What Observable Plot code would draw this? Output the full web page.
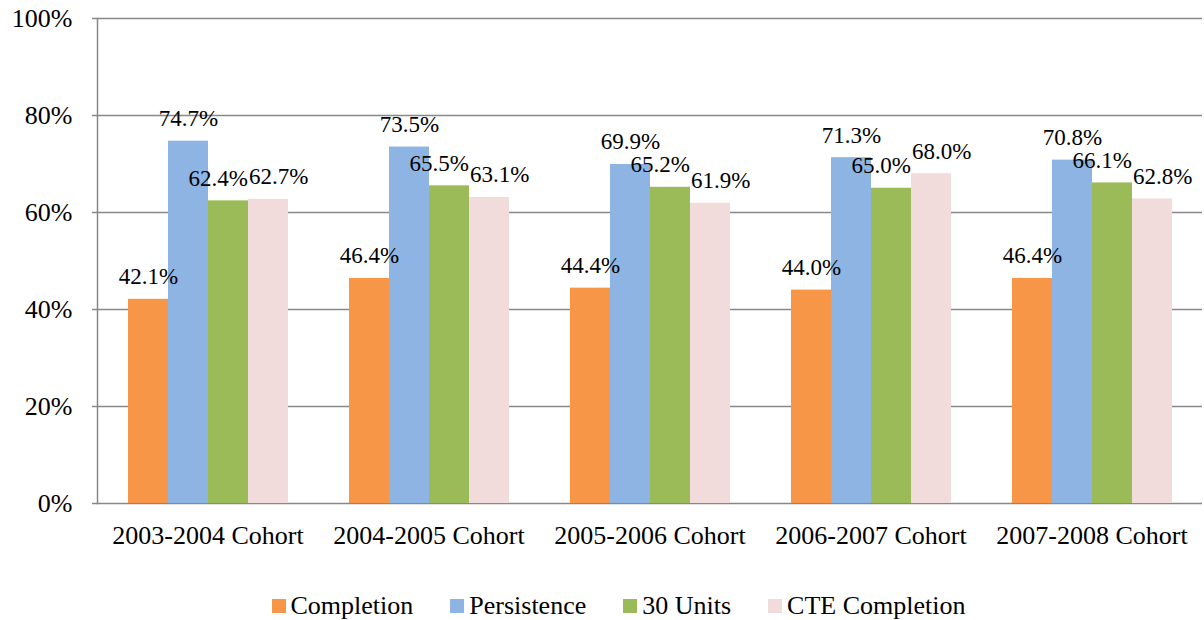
<!DOCTYPE html>
<html>
<head>
<meta charset="utf-8">
<script src="https://cdn.jsdelivr.net/npm/d3@7"></script>
<script src="https://cdn.jsdelivr.net/npm/@observablehq/plot@0.6"></script>
<style>
  body { margin: 0; background: #fff; font-family: "Times New Roman", Times, "Liberation Serif", Tinos, "Nimbus Roman", "Noto Serif", "DejaVu Serif", serif; }
  #legend { display: flex; justify-content: center; align-items: center; font-size: 26px; color: #000; height: 52px; margin-left: 33px; }
  #legend span.sw { display: inline-block; width: 14px; height: 14px; margin-right: 5px; }
  #legend div { display: flex; align-items: center; margin: 0 18.5px; }
  svg text { font-family: "Times New Roman", Times, "Liberation Serif", Tinos, "Nimbus Roman", "Noto Serif", "DejaVu Serif", serif; }
</style>
</head>
<body>
<div id="chart"></div>
<div id="legend"></div>
<script>
const cohorts = ["2003-2004 Cohort", "2004-2005 Cohort", "2005-2006 Cohort", "2006-2007 Cohort", "2007-2008 Cohort"];
const seriesNames = ["Completion", "Persistence", "30 Units", "CTE Completion"];
const completion = [42.1, 46.4, 44.4, 44.0, 46.4];
const persistence = [74.7, 73.5, 69.9, 71.3, 70.8];
const units30 = [62.4, 65.5, 65.2, 65.0, 66.1];
const cteCompletion = [62.7, 63.1, 61.9, 68.0, 62.8];
const colors = ["#F79646", "#8EB4E3", "#9BBB59", "#F2DCDB"];
const yTicks = [0, 20, 40, 60, 80, 100];

const seriesValues = [completion, persistence, units30, cteCompletion];
const data = [];
cohorts.forEach((c, i) => {
  seriesNames.forEach((s, j) => {
    data.push({cohort: c, series: s, value: seriesValues[j][i]});
  });
});

const chart = Plot.plot({
  width: 1204,
  height: 580,
  marginLeft: 95,
  marginRight: 0,
  marginTop: 18,
  marginBottom: 77,
  style: {fontSize: "26px", color: "#000", background: "#fff"},
  fx: {domain: cohorts, padding: 0, label: null},
  x: {domain: seriesNames, paddingInner: 0, paddingOuter: 0.74, axis: null},
  y: {domain: [0, 100], ticks: yTicks, label: null},
  color: {domain: seriesNames, range: colors},
  marks: [
    Plot.gridY(yTicks, {stroke: "#888", strokeOpacity: 1, strokeWidth: 1.5}),
    Plot.frame({anchor: "left", facet: "super", stroke: "#888", strokeWidth: 1.5}),
    Plot.axisY({ticks: yTicks, tickFormat: d => d + "%", tickSize: 5, stroke: "#888", strokeWidth: 1.5, tickPadding: 20, fontSize: 26, anchor: "left"}),
    Plot.axisFx({anchor: "bottom", tickSize: 0, tickPadding: 22, fontSize: 26, label: null}),
    Plot.barY(data, {fx: "cohort", x: "series", y: "value", fill: "series"}),
    Plot.text(data, {fx: "cohort", x: "series", y: "value", text: d => d.value.toFixed(1) + "%", lineAnchor: "bottom", dy: -15, fontSize: 23, fill: "#000"})
  ]
});
document.getElementById("chart").appendChild(chart);

// Nudge adjacent value labels apart horizontally when they collide (like Excel's label placement)
const valueTexts = Array.from(chart.querySelectorAll("text")).filter(t => /^\d+\.\d%$/.test(t.textContent.trim()));
const groups = new Map();
valueTexts.forEach(t => {
  const key = t.parentNode;
  if (!groups.has(key)) groups.set(key, []);
  groups.get(key).push(t);
});
groups.forEach(texts => {
  const items = texts.map(t => ({t, r: t.getBoundingClientRect(), shift: 0}));
  items.sort((a, b) => (a.r.left + a.r.right) - (b.r.left + b.r.right));
  for (let i = 1; i < items.length; i++) {
    const p = items[i - 1], c = items[i];
    const pr = p.r.right + p.shift;
    const cl = c.r.left + c.shift;
    const vOverlap = c.r.top < p.r.bottom - 6 && c.r.bottom > p.r.top + 6;
    if (vOverlap && cl < pr + 1) {
      const ov = pr + 1 - cl;
      p.shift -= ov / 2;
      c.shift += ov / 2;
    }
  }
  items.forEach(({t, shift}) => {
    if (shift) {
      const tr = t.getAttribute("transform");
      t.setAttribute("transform", (tr ? tr + " " : "") + "translate(" + shift + ",0)");
    }
  });
});

const legend = document.getElementById("legend");
seriesNames.forEach((s, i) => {
  const item = document.createElement("div");
  const sw = document.createElement("span");
  sw.className = "sw";
  sw.style.background = colors[i];
  item.appendChild(sw);
  item.appendChild(document.createTextNode(s));
  legend.appendChild(item);
});
</script>
</body>
</html>
